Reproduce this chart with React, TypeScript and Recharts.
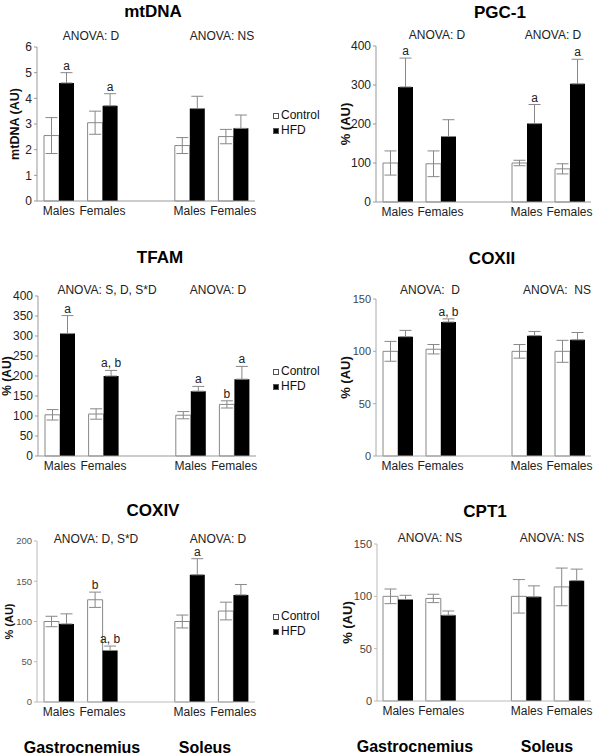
import { BarChart, Bar, XAxis, YAxis, ErrorBar, LabelList, Legend } from "recharts";

const categories = ["Males", "Females", "", "Males", "Females"];
const seriesNames = ["Control", "HFD"];

// mtDNA
const mtdnaControl = [2.55, 3.05, null, 2.16, 2.51];
const mtdnaControlErr = [0.7, 0.45, null, 0.31, 0.28];
const mtdnaHfd = [4.6, 3.71, null, 3.6, 2.83];
const mtdnaHfdErr = [0.4, 0.47, null, 0.48, 0.52];
const mtdnaControlSig = ["", "", "", "", ""];
const mtdnaHfdSig = ["a", "a", "", "", ""];
const mtdnaTicks = [0, 1, 2, 3, 4, 5, 6];

// PGC-1
const pgcControl = [100, 98, null, 100, 85];
const pgcControlErr = [31, 33, null, 7, 13];
const pgcHfd = [295, 168, null, 201, 303];
const pgcHfdErr = [74, 43, null, 49, 63];
const pgcControlSig = ["", "", "", "", ""];
const pgcHfdSig = ["a", "", "", "a", "a"];
const pgcTicks = [0, 50, 100, 150, 200, 250, 300, 350, 400];

// TFAM
const tfamControl = [103, 105, null, 102, 129];
const tfamControlErr = [13, 13, null, 9, 9];
const tfamHfd = [306, 200, null, 162, 192];
const tfamHfdErr = [45, 14, null, 12, 32];
const tfamControlSig = ["", "", "", "", "b"];
const tfamHfdSig = ["a", "a, b", "", "a", "a"];
const tfamTicks = [0, 50, 100, 150, 200, 250, 300, 350, 400];

// COXII
const cox2Control = [100, 102, null, 100, 100];
const cox2ControlErr = [9.5, 4.5, null, 6.5, 10.5];
const cox2Hfd = [114, 128, null, 115, 111];
const cox2HfdErr = [6, 3, null, 4, 7];
const cox2ControlSig = ["", "", "", "", ""];
const cox2HfdSig = ["", "a, b", "", "", ""];
const cox2Ticks = [0, 50, 100, 150];

// COXIV
const cox4Control = [100, 127, null, 100, 113];
const cox4ControlErr = [6.5, 9.5, null, 8, 11];
const cox4Hfd = [97, 64, null, 158, 133];
const cox4HfdErr = [12.5, 5.5, null, 20, 13];
const cox4ControlSig = ["", "b", "", "", ""];
const cox4HfdSig = ["", "a, b", "", "a", ""];
const cox4Ticks = [0, 50, 100, 150, 200];

// CPT1
const cptControl = [100, 98, null, 100, 109];
const cptControlErr = [7, 4, null, 16, 18];
const cptHfd = [97, 82, null, 99.5, 115];
const cptHfdErr = [4, 4, null, 10.5, 11];
const cptControlSig = ["", "", "", "", ""];
const cptHfdSig = ["", "", "", "", ""];
const cptTicks = [0, 50, 100, 150];

const FONT = "Arial, 'Liberation Sans', sans-serif";
const W = 300;
const H = 260;
const YW = 25;
const XH = 20;

function makeData(ctrl, ctrlErr, hfd, hfdErr, ctrlSig, hfdSig) {
  return categories.map((name, i) => ({
    name,
    control: ctrl[i],
    controlErr: ctrlErr[i],
    hfd: hfd[i],
    hfdErr: hfdErr[i],
    controlSig: ctrlSig[i],
    hfdSig: hfdSig[i],
  }));
}

const panels = [
  {
    title: "mtDNA", yLabel: "mtDNA (AU)", left: 0, top: 0,
    plot: { top: 47, bottom: 201, left: 37, right: 255 },
    data: makeData(mtdnaControl, mtdnaControlErr, mtdnaHfd, mtdnaHfdErr, mtdnaControlSig, mtdnaHfdSig),
    ticks: mtdnaTicks, tickFont: 12, tickColor: "#222", axisColor: "#999",
    labelX: 15, labelFont: 12.5,
    titlePos: [153, 11],
    anova: [["ANOVA: D", 91, 36], ["ANOVA: NS", 222, 36]],
    legendTop: 108,
  },
  {
    title: "PGC-1", yLabel: "% (AU)", left: 300, top: 0,
    plot: { top: 46, bottom: 202, left: 76, right: 291 },
    data: makeData(pgcControl, pgcControlErr, pgcHfd, pgcHfdErr, pgcControlSig, pgcHfdSig),
    ticks: pgcTicks, tickFont: 12, tickColor: "#222", axisColor: "#999",
    labelX: 45, labelFont: 13,
    titlePos: [500, 12],
    anova: [["ANOVA: D", 437, 35], ["ANOVA: D", 553, 35]],
  },
  {
    title: "TFAM", yLabel: "% (AU)", left: 0, top: 230,
    plot: { top: 66, bottom: 226, left: 38, right: 256 },
    data: makeData(tfamControl, tfamControlErr, tfamHfd, tfamHfdErr, tfamControlSig, tfamHfdSig),
    ticks: tfamTicks, tickFont: 12, tickColor: "#222", axisColor: "#999",
    labelX: 7, labelFont: 12,
    titlePos: [160, 257],
    anova: [["ANOVA: S, D, S*D", 107, 290], ["ANOVA: D", 218, 290]],
    legendTop: 134,
  },
  {
    title: "COXII", yLabel: "% (AU)", left: 300, top: 230,
    plot: { top: 69, bottom: 226, left: 76, right: 291 },
    data: makeData(cox2Control, cox2ControlErr, cox2Hfd, cox2HfdErr, cox2ControlSig, cox2HfdSig),
    ticks: cox2Ticks, tickFont: 11, tickColor: "#444", axisColor: "#aaa",
    labelX: 45, labelFont: 13,
    titlePos: [492, 258],
    anova: [["ANOVA:  D", 430, 290], ["ANOVA:  NS", 557, 290]],
  },
  {
    title: "COXIV", yLabel: "% (AU)", left: 0, top: 480,
    plot: { top: 61, bottom: 222, left: 37, right: 255 },
    data: makeData(cox4Control, cox4ControlErr, cox4Hfd, cox4HfdErr, cox4ControlSig, cox4HfdSig),
    ticks: cox4Ticks, tickFont: 9.5, tickColor: "#555", axisColor: "#bbb",
    labelX: 9, labelFont: 11,
    titlePos: [153, 510],
    anova: [["ANOVA: D, S*D", 96, 539], ["ANOVA: D", 218, 539]],
    legendTop: 129,
    bottom: [["Gastrocnemius", 82, 748], ["Soleus", 205, 748]],
  },
  {
    title: "CPT1", yLabel: "% (AU)", left: 300, top: 480,
    plot: { top: 64, bottom: 221, left: 77, right: 291 },
    data: makeData(cptControl, cptControlErr, cptHfd, cptHfdErr, cptControlSig, cptHfdSig),
    ticks: cptTicks, tickFont: 11, tickColor: "#444", axisColor: "#bbb",
    labelX: 47, labelFont: 13,
    titlePos: [485, 511],
    anova: [["ANOVA: NS", 430, 538], ["ANOVA: NS", 552, 538]],
    bottom: [["Gastrocnemius", 415, 747], ["Soleus", 547, 747]],
  },
];

// letter above the error bar, using the bar's own pixel scale
function renderSig(props) {
  const vb = props.viewBox || props;
  const { x, y, width, height } = vb;
  const info = props.value;
  if (!info || !info.sig || info.v == null) return null;
  const h = Math.abs(height);
  const top = Math.min(y, y + height);
  const k = h / info.v;
  const yy = top - (info.e || 0) * k - 3;
  return (
    <text x={x + width / 2} y={yy} textAnchor="middle" fontSize={12} fontFamily={FONT} fill="#222">
      {info.sig}
    </text>
  );
}

function LegendBox() {
  const fills = ["#fff", "#000"];
  return (
    <div style={{ fontFamily: FONT, fontSize: 12, lineHeight: "15px", color: "#111", textAlign: "left" }}>
      {seriesNames.map((n, i) => (
        <div key={n} style={{ display: "flex", alignItems: "center", whiteSpace: "nowrap" }}>
          <span style={{ display: "inline-block", width: 4, height: 4, border: "1px solid #555", background: fills[i], marginRight: 2 }} />
          {n}
        </div>
      ))}
    </div>
  );
}

function Text({ t, x, y, size = 12, bold = false, color = "#222" }) {
  return (
    <div
      style={{
        position: "absolute", left: x, top: y, transform: "translate(-50%, -50%)",
        fontFamily: FONT, fontSize: size, fontWeight: bold ? "bold" : "normal",
        whiteSpace: "pre", lineHeight: 1, color,
      }}
    >
      {t}
    </div>
  );
}

function Panel({ p }) {
  const margin = {
    top: p.plot.top,
    left: p.plot.left - YW,
    right: W - p.plot.right,
    bottom: H - p.plot.bottom - XH,
  };
  return (
    <div style={{ position: "absolute", left: p.left, top: p.top, width: W, height: H }}>
      <BarChart width={W} height={H} data={p.data} margin={margin} barGap={0} barSize={15}>
        <XAxis
          dataKey="name"
          tickLine={false}
          tickSize={0}
          tickMargin={5}
          axisLine={{ stroke: p.axisColor }}
          tick={{ fontSize: 12, fill: "#222", fontFamily: FONT }}
          interval={0}
          height={XH}
        />
        <YAxis
          domain={[0, p.ticks[p.ticks.length - 1]]}
          ticks={p.ticks}
          width={YW}
          tickSize={3}
          tickMargin={2}
          tickLine={{ stroke: p.axisColor }}
          axisLine={{ stroke: p.axisColor }}
          tick={{ fontSize: p.tickFont, fill: p.tickColor, fontFamily: FONT }}
          label={{
            value: p.yLabel,
            angle: -90,
            position: "center",
            dx: p.labelX - p.plot.left + YW / 2,
            style: { fontSize: p.labelFont, fontWeight: "bold", fill: "#111", fontFamily: FONT },
          }}
        />
        <Bar dataKey="control" name="Control" fill="#fff" stroke="#888" strokeWidth={1} isAnimationActive={false}>
          <ErrorBar dataKey="controlErr" width={6} stroke="#888" strokeWidth={1} direction="y" />
          <LabelList
            dataKey={(d) => ({ sig: d.controlSig, v: d.control, e: d.controlErr })}
            content={renderSig}
          />
        </Bar>
        <Bar dataKey="hfd" name="HFD" fill="#000" isAnimationActive={false}>
          <ErrorBar
            dataKey={(d) => (d.hfdErr == null ? null : [0, d.hfdErr])}
            width={6}
            stroke="#888"
            strokeWidth={1}
            direction="y"
          />
          <LabelList
            dataKey={(d) => ({ sig: d.hfdSig, v: d.hfd, e: d.hfdErr })}
            content={renderSig}
          />
        </Bar>
        {p.legendTop != null && (
          <Legend
            layout="horizontal"
            align="center"
            verticalAlign="middle"
            wrapperStyle={{ left: 273, top: p.legendTop, width: 70 }}
            content={() => <LegendBox />}
          />
        )}
      </BarChart>
    </div>
  );
}

export default function App() {
  return (
    <div style={{ position: "absolute", left: 0, top: 0, width: 600, height: 755, background: "#fff", overflow: "hidden" }}>
      {panels.map((p) => (
        <Panel key={p.title} p={p} />
      ))}
      {panels.map((p) => (
        <Text key={"t" + p.title} t={p.title} x={p.titlePos[0]} y={p.titlePos[1]} size={17} bold color="#000" />
      ))}
      {panels.map((p) =>
        p.anova.map(([t, x, y], i) => <Text key={p.title + "a" + i} t={t} x={x} y={y} size={12} />)
      )}
      {panels.map((p) =>
        (p.bottom || []).map(([t, x, y], i) => <Text key={p.title + "b" + i} t={t} x={x} y={y} size={16} bold color="#000" />)
      )}
    </div>
  );
}
